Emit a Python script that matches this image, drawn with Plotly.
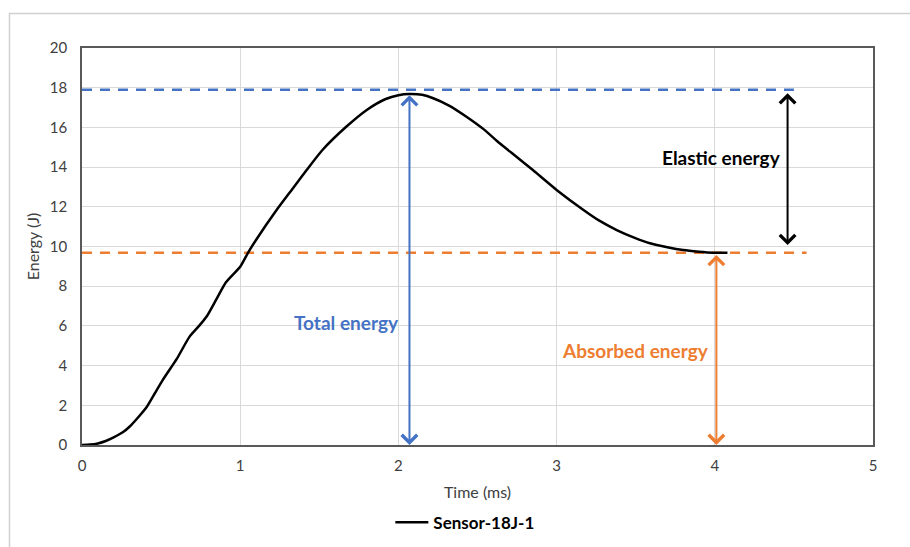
import plotly.graph_objects as go

# Curve data (Sensor-18J-1)
time_ms = [0.0, 0.05, 0.10, 0.15, 0.20, 0.26, 0.30, 0.35, 0.41, 0.46, 0.51, 0.60, 0.68, 0.74, 0.79, 0.85,
           0.91, 1.0, 1.05, 1.10, 1.23, 1.33, 1.42, 1.52, 1.67, 1.80, 1.92, 2.0, 2.07, 2.15, 2.22, 2.32,
           2.43, 2.54, 2.64, 2.75, 2.85, 3.0, 3.17, 3.27, 3.38, 3.49, 3.59, 3.70, 3.80, 3.90, 3.99, 4.08]
energy_J = [0.0, 0.02, 0.08, 0.2, 0.38, 0.65, 0.92, 1.35, 1.93, 2.6, 3.27, 4.35, 5.46, 6.0, 6.5, 7.35,
            8.2, 8.98, 9.69, 10.33, 11.84, 12.9, 13.85, 14.86, 16.03, 16.88, 17.43, 17.62, 17.68, 17.64,
            17.47, 17.1, 16.54, 15.9, 15.2, 14.5, 13.85, 12.85, 11.84, 11.3, 10.83, 10.45, 10.16, 9.96,
            9.82, 9.74, 9.69, 9.68]

series_name = "Sensor-18J-1"

# Reference levels (dashed)
total_level = 17.9
total_level_end = 4.5
absorbed_level = 9.69
absorbed_level_end = 4.58

# Arrows: x position, y start, y end
arrow_x = [2.07, 4.01, 4.46]
arrow_y_low = [0.0, 0.0, 10.07]
arrow_y_high = [17.7, 9.65, 17.8]

# Labels
label_text = ["Total energy", "Absorbed energy", "Elastic energy"]
label_x = [1.669, 3.50, 4.043]
label_y = [6.15, 4.78, 14.5]

x_ticks = [0, 1, 2, 3, 4, 5]
y_ticks = [0, 2, 4, 6, 8, 10, 12, 14, 16, 18, 20]

BLUE = "#4472C4"
ORANGE = "#ED7D31"
colors = [BLUE, ORANGE, "#000000"]
FONT = "Lato, 'Open Sans', sans-serif"

fig = go.Figure()

fig.add_trace(go.Scatter(x=[0, total_level_end], y=[total_level, total_level], mode="lines",
                         line=dict(color=BLUE, width=2.5, dash="10px,8px"), showlegend=False,
                         hoverinfo="skip"))
fig.add_trace(go.Scatter(x=[0, absorbed_level_end], y=[absorbed_level, absorbed_level], mode="lines",
                         line=dict(color=ORANGE, width=2.5, dash="10px,8px"), showlegend=False,
                         hoverinfo="skip"))
fig.add_trace(go.Scatter(x=time_ms, y=energy_J, mode="lines", name="<b>" + series_name + "</b>",
                         line=dict(color="black", width=2.5, shape="spline", smoothing=0.6)))

annotations = []
for xa, y0, y1, c in zip(arrow_x, arrow_y_low, arrow_y_high, colors):
    annotations.append(dict(x=xa, y=y0, ax=xa, ay=y1, xref="x", yref="y", axref="x", ayref="y",
                            text="", showarrow=True, arrowhead=4, startarrowhead=4,
                            arrowside="end+start", arrowsize=1.5, startarrowsize=1.5,
                            arrowwidth=2, arrowcolor=c))
for t, xl, yl, c in zip(label_text, label_x, label_y, colors):
    annotations.append(dict(x=xl, y=yl, xref="x", yref="y", text="<b>" + t + "</b>",
                            showarrow=False, font=dict(family=FONT, size=19, color=c)))

fig.update_layout(
    width=910, height=547,
    margin=dict(l=82, r=37, t=48, b=102, autoexpand=False),
    paper_bgcolor="white", plot_bgcolor="white",
    font=dict(family=FONT, size=15, color="#404040"),
    annotations=annotations,
    showlegend=True,
    legend=dict(orientation="h", x=0.484, xanchor="center", y=-0.196, yanchor="middle",
                font=dict(family=FONT, size=17, color="black"), itemwidth=33),
    shapes=[dict(type="rect", xref="paper", yref="paper", x0=-0.0917, x1=1.2, y0=-0.5,
                 y1=1.087, line=dict(color="#d0d0d0", width=1.5), fillcolor="rgba(0,0,0,0)",
                 layer="below")],
)

fig.update_xaxes(range=[0, 5], tickvals=x_ticks, showgrid=True, gridcolor="#d9d9d9",
                 showline=True, linecolor="#595959", linewidth=1.5, mirror=True, zeroline=False,
                 ticks="", tickfont=dict(size=15, color="#404040"), ticklabelstandoff=6,
                 title=dict(text="Time (ms)", font=dict(size=16, color="#404040"), standoff=14))
fig.update_yaxes(range=[0, 20], tickvals=y_ticks, showgrid=True, gridcolor="#d9d9d9",
                 showline=True, linecolor="#595959", linewidth=1.5, mirror=True, zeroline=False,
                 ticks="", tickfont=dict(size=15, color="#404040"), ticklabelstandoff=10,
                 title=dict(text="Energy (J)", font=dict(size=16, color="#404040"), standoff=6))

fig.write_html("out.html")
